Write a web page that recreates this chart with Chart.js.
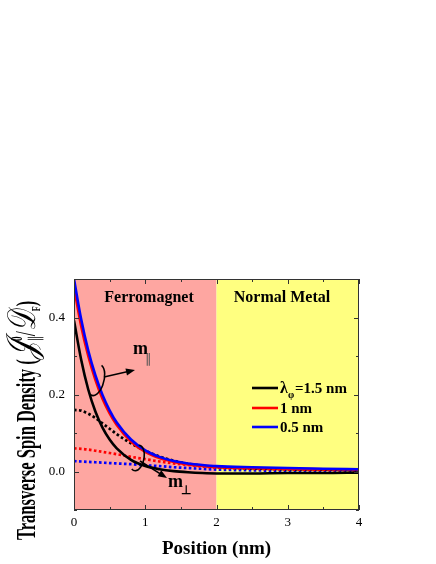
<!DOCTYPE html>
<html>
<head>
<meta charset="utf-8">
<script src="https://cdn.jsdelivr.net/npm/chart.js@4.4.1/dist/chart.umd.min.js"></script>
<style>
  html, body { margin: 0; padding: 0; background: #fff; }
  #wrap { width: 436px; height: 564px; }
</style>
</head>
<body>
<div id="wrap"><canvas id="grafico" width="436" height="564"></canvas></div>
<script>
// datos
var posiciones = [0, 0.1, 0.2, 0.3, 0.4, 0.5, 0.6, 0.8, 1.0, 1.2, 1.4, 1.6, 1.8, 2.0, 2.5, 3.0, 3.5, 4.0];

var negroPar = [0.392, 0.291, 0.213, 0.156, 0.114, 0.083, 0.060, 0.030, 0.014, 0.006, 0.001, -0.002, -0.004, -0.005, -0.005, -0.004, -0.004, -0.003];
var rojoPar  = [0.478, 0.378, 0.300, 0.238, 0.189, 0.151, 0.121, 0.078, 0.051, 0.035, 0.025, 0.018, 0.015, 0.012, 0.009, 0.007, 0.006, 0.005];
var azulPar  = [0.500, 0.396, 0.314, 0.250, 0.199, 0.159, 0.127, 0.083, 0.055, 0.038, 0.027, 0.021, 0.017, 0.014, 0.011, 0.009, 0.007, 0.006];

var negroPerp = [0.160, 0.158, 0.150, 0.139, 0.125, 0.111, 0.097, 0.073, 0.054, 0.039, 0.028, 0.020, 0.015, 0.012, 0.008, 0.006, 0.005, 0.004];
var rojoPerp  = [0.060, 0.059, 0.057, 0.054, 0.051, 0.048, 0.045, 0.038, 0.032, 0.026, 0.021, 0.017, 0.013, 0.010, 0.007, 0.005, 0.004, 0.003];
var azulPerp  = [0.027, 0.026, 0.025, 0.024, 0.023, 0.022, 0.021, 0.019, 0.016, 0.014, 0.011, 0.009, 0.007, 0.005, 0.003, 0.002, 0.002, 0.001];

var etiquetasLeyenda = ['=1.5 nm', '1 nm', '0.5 nm'];
var coloresLeyenda = ['#000000', '#ff0000', '#0000ff'];

var ticksX = [0, 1, 2, 3, 4];
var ticksY = [0.0, 0.2, 0.4];

var fuente = '"Liberation Serif", "Times New Roman", serif';

function puntos(ys) {
  return posiciones.map(function (x, i) { return { x: x, y: ys[i] }; });
}

function serie(ys, color, punteada, orden) {
  return {
    data: puntos(ys),
    borderColor: color,
    backgroundColor: color,
    borderWidth: punteada ? 2.7 : 2.6,
    borderDash: punteada ? [2.6, 2.4] : [],
    pointRadius: 0,
    cubicInterpolationMode: 'monotone',
    fill: false,
    order: orden
  };
}

// fondo de las regiones
const fondo = {
  id: 'fondo',
  beforeDatasetsDraw(chart) {
    const ctx = chart.ctx;
    const a = chart.chartArea;
    const x2 = chart.scales.x.getPixelForValue(2);
    ctx.save();
    ctx.fillStyle = '#fea6a1';
    ctx.fillRect(a.left, a.top, x2 - a.left, a.bottom - a.top);
    ctx.fillStyle = '#ffff80';
    ctx.fillRect(x2, a.top, a.right - x2, a.bottom - a.top);
    ctx.restore();
  }
};

function flecha(ctx, x1, y1, x2, y2) {
  const ang = Math.atan2(y2 - y1, x2 - x1);
  ctx.beginPath();
  ctx.moveTo(x1, y1);
  ctx.lineTo(x2 - 6 * Math.cos(ang), y2 - 6 * Math.sin(ang));
  ctx.stroke();
  ctx.beginPath();
  ctx.moveTo(x2, y2);
  ctx.lineTo(x2 - 9 * Math.cos(ang) + 3.5 * Math.sin(ang), y2 - 9 * Math.sin(ang) - 3.5 * Math.cos(ang));
  ctx.lineTo(x2 - 9 * Math.cos(ang) - 3.5 * Math.sin(ang), y2 - 9 * Math.sin(ang) + 3.5 * Math.cos(ang));
  ctx.closePath();
  ctx.fill();
}

// marco, ticks hacia dentro, textos y leyenda
const adornos = {
  id: 'adornos',
  afterDraw(chart) {
    const ctx = chart.ctx;
    const a = chart.chartArea;
    const sx = chart.scales.x;
    const sy = chart.scales.y;
    ctx.save();

    // marco
    ctx.strokeStyle = '#333';
    ctx.lineWidth = 1;
    ctx.strokeRect(a.left + 0.5, a.top + 0.5, a.right - a.left - 1, a.bottom - a.top - 1);

    // ticks
    ctx.beginPath();
    for (let v = 0; v <= 4.001; v += 0.5) {
      const px = Math.round(sx.getPixelForValue(v)) + 0.5;
      const l = (Math.abs(v - Math.round(v)) < 0.01) ? 5 : 3;
      ctx.moveTo(px, a.bottom); ctx.lineTo(px, a.bottom - l);
      ctx.moveTo(px, a.top); ctx.lineTo(px, a.top + l);
    }
    for (let k = -1; k <= 5; k++) {
      const py = Math.round(sy.getPixelForValue(k / 10)) + 0.5;
      const l = (k % 2 === 0) ? 5 : 3;
      ctx.moveTo(a.left, py); ctx.lineTo(a.left + l, py);
      ctx.moveTo(a.right, py); ctx.lineTo(a.right - l, py);
    }
    ctx.stroke();

    ctx.fillStyle = '#000';
    ctx.strokeStyle = '#000';
    ctx.textBaseline = 'alphabetic';

    // regiones
    ctx.font = 'bold 16px ' + fuente;
    ctx.textAlign = 'center';
    ctx.fillText('Ferromagnet', 149, 302);
    ctx.fillText('Normal Metal', 282, 302);

    // m paralelo
    ctx.textAlign = 'left';
    ctx.font = 'bold 18px ' + fuente;
    ctx.fillText('m', 133, 354);
    ctx.font = '13px ' + fuente;
    ctx.fillStyle = '#555';
    ctx.fillText('\u2225', 145, 363);
    ctx.fillStyle = '#000';

    // m perpendicular
    ctx.font = 'bold 18px ' + fuente;
    ctx.fillText('m', 168, 487);
    ctx.font = 'bold 12px ' + fuente;
    ctx.fillText('\u22a5', 181, 494);

    // elipses y flechas
    ctx.lineWidth = 1.6;
    ctx.beginPath();
    ctx.ellipse(96, 380, 8, 16, 0.25, -1.35, 1.9);
    ctx.stroke();
    flecha(ctx, 104, 377, 135, 370);
    ctx.beginPath();
    ctx.ellipse(137, 458, 7, 13, 0.2, -1.7, 2.0);
    ctx.stroke();
    flecha(ctx, 140, 461, 167, 478);

    // leyenda
    const filas = [388, 408, 427];
    ctx.lineWidth = 2.6;
    filas.forEach(function (y, i) {
      ctx.strokeStyle = coloresLeyenda[i];
      ctx.beginPath();
      ctx.moveTo(252, y); ctx.lineTo(278, y);
      ctx.stroke();
    });
    ctx.fillStyle = '#000';
    ctx.font = 'bold 16px ' + fuente;
    ctx.fillText('\u03bb', 280, 393);
    ctx.font = 'bold 10px ' + fuente;
    ctx.fillText('\u03c6', 288, 398);
    ctx.font = 'bold 15px ' + fuente;
    ctx.fillText(etiquetasLeyenda[0], 295, 393);
    ctx.fillText(etiquetasLeyenda[1], 280, 413);
    ctx.fillText(etiquetasLeyenda[2], 280, 432);

    // titulo eje x
    ctx.textAlign = 'center';
    ctx.font = 'bold 19px ' + fuente;
    ctx.fillText('Position (nm)', (a.left + a.right) / 2, 554);

    // titulo eje y (rotado, letras altas)
    ctx.translate(35, 540);
    ctx.rotate(-Math.PI / 2);
    ctx.scale(1, 1.6);
    ctx.textAlign = 'left';
    let x = 0;
    const trozo = function (txt, f, dy) {
      ctx.font = f;
      ctx.fillText(txt, x, dy);
      x += ctx.measureText(txt).width;
    };
    trozo('Transverse Spin Density (', 'bold 16.5px ' + fuente, 0);
    trozo('\ud835\udca5', 'italic 26px ' + fuente, 0);
    const xj = x;
    trozo('\u2225', '10px ' + fuente, 3);
    x = xj;
    trozo('0', 'bold 10px ' + fuente, -8);
    trozo('/', '18px ' + fuente, 0);
    trozo('\ud835\udc9f', 'italic 25px ' + fuente, 0);
    trozo('F', 'bold 8px ' + fuente, 3);
    trozo(')', 'bold 16.5px ' + fuente, 0);

    ctx.restore();
  }
};

new Chart(document.getElementById('grafico'), {
  type: 'line',
  data: {
    datasets: [
      serie(azulPar, '#0000ff', false, 1),
      serie(rojoPar, '#ff0000', false, 2),
      serie(negroPar, '#000000', false, 3),
      serie(negroPerp, '#000000', true, 4),
      serie(rojoPerp, '#ff0000', true, 5),
      serie(azulPerp, '#0000ff', true, 6)
    ]
  },
  options: {
    responsive: false,
    animation: false,
    layout: { padding: { top: 279, right: 77, left: 0, bottom: 0 } },
    plugins: { legend: { display: false }, tooltip: { enabled: false } },
    scales: {
      x: {
        type: 'linear',
        min: 0,
        max: 4,
        afterFit: function (s) { s.height = 54; },
        afterBuildTicks: function (s) { s.ticks = ticksX.map(function (v) { return { value: v }; }); },
        grid: { display: false, drawTicks: false },
        border: { display: false },
        ticks: { color: '#000', font: { family: fuente, size: 13 }, padding: 5 }
      },
      y: {
        min: -0.1,
        max: 0.5,
        afterFit: function (s) { s.width = 74; },
        afterBuildTicks: function (s) { s.ticks = ticksY.map(function (v) { return { value: v }; }); },
        grid: { display: false, drawTicks: false },
        border: { display: false },
        ticks: {
          color: '#000',
          font: { family: fuente, size: 13 },
          padding: 9,
          callback: function (v) { return v.toFixed(1); }
        }
      }
    }
  },
  plugins: [fondo, adornos]
});
</script>
</body>
</html>
